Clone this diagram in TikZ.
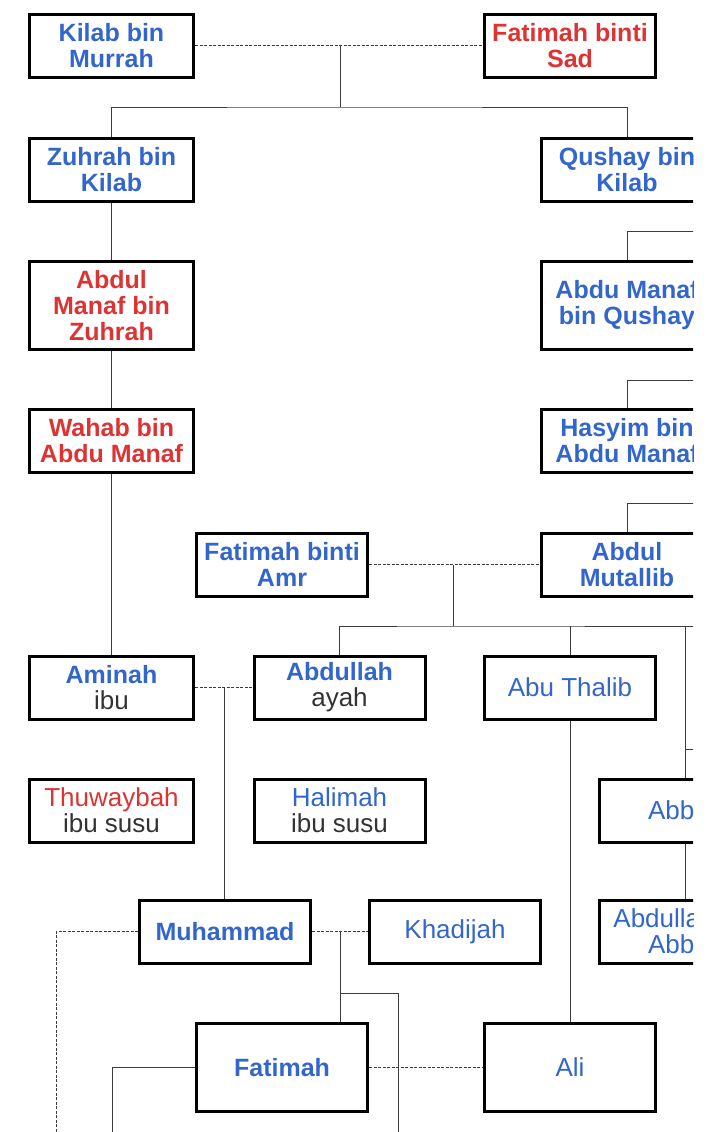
\documentclass[tikz,border=0pt]{standalone}
\usepackage{xcolor}
\usepackage{fontspec}
\setmainfont{Liberation Sans}
\usepackage{tikz}
\definecolor{nameBlue}{RGB}{51,102,204}
\definecolor{nameRed}{RGB}{221,51,51}
\definecolor{subGray}{RGB}{51,51,51}
\definecolor{lineGray}{RGB}{60,60,60}
\newcommand{\bsz}{\fontsize{25}{26}\selectfont}
\newcommand{\rsz}{\fontsize{26}{26}\selectfont}
\newcommand{\role}[1]{{\color{subGray}#1}}
\tikzset{
  person/.style={draw=black, line width=3pt, align=center,
                 minimum width=171pt, minimum height=63pt, inner sep=0pt},
  narrow/.style={minimum width=164pt},
  tall/.style={minimum height=88pt},
  bname/.style={font=\bsz\bfseries},
  rname/.style={font=\rsz},
  kin/.style={lineGray, line width=1pt},
  wed/.style={lineGray, line width=1pt, dash pattern=on 3pt off 1.5pt},
}

\begin{document}
\begin{tikzpicture}[x=1pt,y=-1pt]
  \useasboundingbox (0,0) rectangle (719,1132);
  \clip (0,0) rectangle (693,1132);
  % generation of Kilab
  \node[person, narrow, bname, text=nameBlue] (kilab) at (111.5,46) {Kilab bin\\Murrah};
  \node[person, bname, text=nameRed]          (fsad)  at (570,46)   {Fatimah binti\\Sad};
  % two lines down from Kilab
  \node[person, narrow, bname, text=nameBlue]     (zuhrah)  at (111.5,169.5) {Zuhrah bin\\Kilab};
  \node[person, bname, text=nameBlue]             (qushay)  at (627,169.5)   {Qushay bin\\Kilab};
  \node[person, narrow, tall, bname, text=nameRed] (amanafz) at (111.5,305.5) {Abdul\\Manaf bin\\Zuhrah};
  \node[person, tall, bname, text=nameBlue]       (amanafq) at (627,305.5)   {Abdu Manaf\\bin Qushay};
  \node[person, narrow, bname, text=nameRed]      (wahab)   at (111.5,441)   {Wahab bin\\Abdu Manaf};
  \node[person, bname, text=nameBlue]             (hasyim)  at (627,441)     {Hasyim bin\\Abdu Manaf};
  \node[person, bname, text=nameBlue]             (famr)     at (282,564.5)  {Fatimah binti\\Amr};
  \node[person, bname, text=nameBlue]             (mutallib) at (627,564.5)  {Abdul\\Mutallib};
  % parents, uncles and nurses
  \node[person, narrow, rname] (aminah)    at (111.5,687.5) {{\bsz\bfseries\color{nameBlue}Aminah}\\\role{ibu}};
  \node[person, rname]         (abdullah)  at (339.5,687.5) {{\bsz\bfseries\color{nameBlue}Abdullah}\\\role{ayah}};
  \node[person, rname, text=nameBlue] (abuthalib) at (570,687.5) {Abu Thalib};
  \node[person, narrow, rname] (thuwaybah) at (111.5,810.5) {{\color{nameRed}Thuwaybah}\\\role{ibu susu}};
  \node[person, rname]         (halimah)   at (339.5,810.5) {{\color{nameBlue}Halimah}\\\role{ibu susu}};
  \node[person, rname, text=nameBlue] (abbas)    at (685,810.5) {Abbas};
  \node[person, bname, text=nameBlue] (muhammad) at (225,931.5) {Muhammad};
  \node[person, rname, text=nameBlue] (khadijah) at (455,931.5) {Khadijah};
  \node[person, rname, text=nameBlue] (abdabbas) at (685,931.5) {Abdullah bin\\Abbas};
  \node[person, tall, bname, text=nameBlue] (fatimah) at (282,1067.5) {Fatimah};
  \node[person, tall, rname, text=nameBlue] (ali)     at (570,1067.5) {Ali};

  % junction points and ends running off the page
  \coordinate (kf)    at (340,46);
  \coordinate (kfbus) at (340,107);
  \coordinate (qR)    at (720,231);
  \coordinate (hR)    at (720,380);
  \coordinate (mR)    at (720,503);
  \coordinate (fa)    at (453,564.5);
  \coordinate (fabus) at (453,626);
  \coordinate (faR)   at (720,626);
  \coordinate (abR)   at (720,749);
  \coordinate (aa)    at (224,687.5);
  \coordinate (mk)    at (340,931.5);
  \coordinate (mkbus) at (340,993);
  \coordinate (mkD)   at (398,1140);
  \coordinate (mwD)   at (56,1140);
  \coordinate (fwD)   at (112,1140);

  % Kilab and Fatimah binti Sad
  \draw[wed] (kilab) -- (fsad);
  \draw[kin] (kf) -- (kfbus);
  \draw[kin] (zuhrah.north) |- (kfbus) -| (qushay.north);
  % Zuhrah line
  \draw[kin] (zuhrah) -- (amanafz);
  \draw[kin] (amanafz) -- (wahab);
  \draw[kin] (wahab) -- (aminah);
  % Qushay line
  \draw[kin] (amanafq.north) |- (qR);
  \draw[kin] (hasyim.north) |- (hR);
  \draw[kin] (mutallib.north) |- (mR);
  % Abdul Mutallib and Fatimah binti Amr
  \draw[wed] (famr) -- (mutallib);
  \draw[kin] (fa) -- (fabus);
  \draw[kin] (abdullah.north) |- (fabus) -- (faR);
  \draw[kin] (abuthalib.north) -- (abuthalib.north |- fabus);
  \draw[kin] (abbas.north) -- (abbas.north |- fabus);
  \draw[kin] (abbas.north |- abR) -- (abR);
  \draw[kin] (abbas) -- (abdabbas);
  \draw[kin] (abuthalib) -- (ali);
  % Aminah and Abdullah
  \draw[wed] (aminah) -- (abdullah);
  \draw[kin] (aa) -- (aa |- muhammad.north);
  % Muhammad
  \draw[wed] (muhammad) -- (khadijah);
  \draw[wed] (muhammad.west) -| (mwD);
  \draw[kin] (mk) -- (mk |- fatimah.north);
  \draw[kin] (mkbus) -| (mkD);
  % Fatimah and Ali
  \draw[wed] (fatimah) -- (ali);
  \draw[kin] (fatimah.west) -| (fwD);
\end{tikzpicture}
\end{document}
